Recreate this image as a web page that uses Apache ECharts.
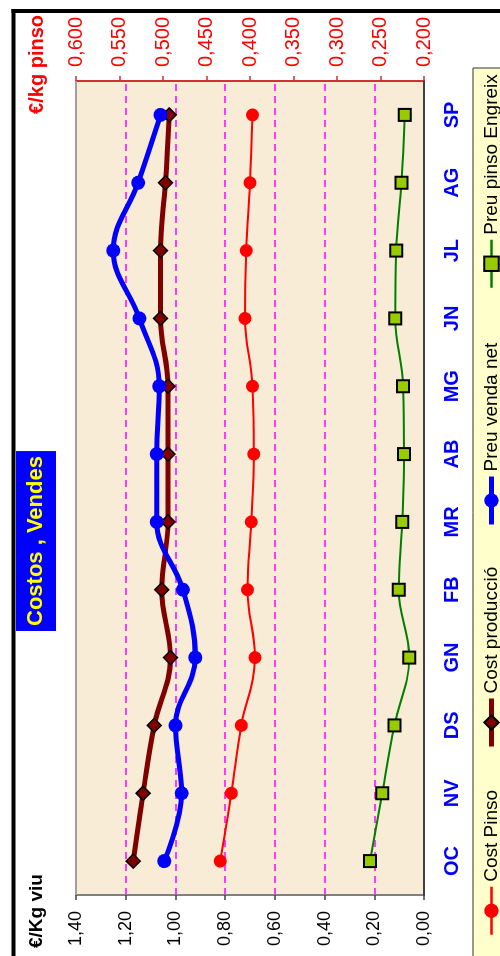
<!DOCTYPE html>
<html><head><meta charset="utf-8">
<script src="https://cdn.jsdelivr.net/npm/echarts/dist/echarts.min.js"></script>
<style>
html,body{margin:0;padding:0;background:#fff;overflow:hidden;width:500px;height:956px;}
#chart{position:absolute;left:0;top:0;width:956px;height:500px;transform-origin:0 0;transform:translate(0,956px) rotate(-90deg);}
</style></head><body><div id="chart"></div>
<script>
const months = ['OC','NV','DS','GN','FB','MR','AB','MG','JN','JL','AG','SP'];
const costPinso = [0.82,0.775,0.735,0.68,0.71,0.695,0.685,0.69,0.72,0.715,0.70,0.69];
const costProduccio = [1.17,1.13,1.085,1.02,1.055,1.03,1.03,1.03,1.06,1.06,1.04,1.025];
const preuVenda = [1.045,0.975,1.0,0.92,0.97,1.075,1.075,1.065,1.145,1.25,1.15,1.06];
const preuPinso = [0.262,0.248,0.234,0.217,0.229,0.225,0.223,0.224,0.233,0.232,0.226,0.222];
const seriesNames = ['Cost Pinso','Cost producció','Preu venda net','Preu pinso Engreix'];

const FF = "'Liberation Sans', Arial, sans-serif";
const chart = echarts.init(document.getElementById('chart'));
const legendLefts = [15, 202, 424, 662];
const legendLineW = [2.5, 5, 5, 2.5];
const legends = seriesNames.map((n, i) => ({
  data: [{name: n, lineStyle: {width: legendLineW[i]}}], left: legendLefts[i], top: 477, itemWidth: 48, itemHeight: 18,
  selectedMode: false, textStyle: {fontSize: 19, color: '#000', fontFamily: FF}
}));

chart.setOption({
  animation: false,
  backgroundColor: '#ffffff',
  title: [
    {text: 'Costos , Vendes', left: 325, top: 16, padding: [9, 5], backgroundColor: '#0000ff',
     textStyle: {color: '#ffff00', fontSize: 22, fontWeight: 'bold', fontFamily: FF}},
    {text: '€/Kg viu', left: 8, top: 27, padding: 0,
     textStyle: {color: '#000', fontSize: 19, fontWeight: 'bold', fontFamily: FF}},
    {text: '€/kg pinso', right: 15, top: 27, padding: 0,
     textStyle: {color: '#ff0000', fontSize: 20, fontWeight: 'bold', fontFamily: FF}}
  ],
  legend: legends,
  grid: {left: 61, right: 81, top: 76, bottom: 76, show: true, backgroundColor: '#f8ecd6', borderWidth: 0},
  xAxis: {
    type: 'category', data: months, boundaryGap: true,
    axisLine: {lineStyle: {color: '#404040', width: 2}},
    axisTick: {length: 5, lineStyle: {color: '#404040', width: 1.5}},
    axisLabel: {interval: 0, color: '#0000ff', fontSize: 20, fontWeight: 'bold', fontFamily: FF, margin: 18}
  },
  yAxis: [
    {type: 'value', min: 0, max: 1.4, interval: 0.2, position: 'left',
     axisLine: {show: true, lineStyle: {color: '#808080', width: 2}},
     axisTick: {show: true, length: 5, lineStyle: {color: '#404040', width: 1.5}},
     axisLabel: {color: '#000', fontSize: 18, fontFamily: FF, margin: 16,
       formatter: v => v.toFixed(2).replace('.', ',')},
     splitLine: {show: true, lineStyle: {color: '#ff00ff', type: [7, 5], width: 1.5}}},
    {type: 'value', min: 0.2, max: 0.6, interval: 0.05, position: 'right',
     axisLine: {show: true, lineStyle: {color: '#cc3333', width: 2}},
     axisTick: {show: true, length: 5, lineStyle: {color: '#cc3333', width: 1.5}},
     axisLabel: {color: '#ff0000', fontSize: 20, fontFamily: FF, margin: 14,
       formatter: v => v.toFixed(3).replace('.', ',')},
     splitLine: {show: false}}
  ],
  graphic: [
    {type: 'rect', z: 1, shape: {x: -5, y: 473, width: 893, height: 60},
     style: {fill: '#ffffcc', stroke: '#333', lineWidth: 1}},
    {type: 'line', z: 10, shape: {x1: 61, y1: 76, x2: 875, y2: 76}, style: {stroke: '#a0a0a0', lineWidth: 2}},
    {type: 'line', z: 10, shape: {x1: -5, y1: 13.5, x2: 947, y2: 13.5}, style: {stroke: '#000', lineWidth: 4}},
    {type: 'line', z: 10, shape: {x1: 945, y1: 11.5, x2: 945, y2: 520}, style: {stroke: '#000', lineWidth: 4}}
  ],
  series: [
    {name: seriesNames[0], type: 'line', yAxisIndex: 0, data: costPinso, smooth: 0.4,
     symbol: 'circle', symbolSize: 13, lineStyle: {color: '#ff0000', width: 2},
     itemStyle: {color: '#ff0000'}},
    {name: seriesNames[1], type: 'line', yAxisIndex: 0, data: costProduccio, smooth: 0.4,
     symbol: 'diamond', symbolSize: 14, lineStyle: {color: '#800000', width: 5},
     itemStyle: {color: '#800000', borderColor: '#000', borderWidth: 1.5}},
    {name: seriesNames[2], type: 'line', yAxisIndex: 0, data: preuVenda, smooth: 0.4,
     symbol: 'circle', symbolSize: 14, lineStyle: {color: '#0000ff', width: 5},
     itemStyle: {color: '#0000ff'}},
    {name: seriesNames[3], type: 'line', yAxisIndex: 1, data: preuPinso, smooth: 0.4,
     symbol: 'rect', symbolSize: 12, lineStyle: {color: '#008000', width: 2},
     itemStyle: {color: '#99cc00', borderColor: '#000', borderWidth: 2}}
  ]
});
</script></body></html>
